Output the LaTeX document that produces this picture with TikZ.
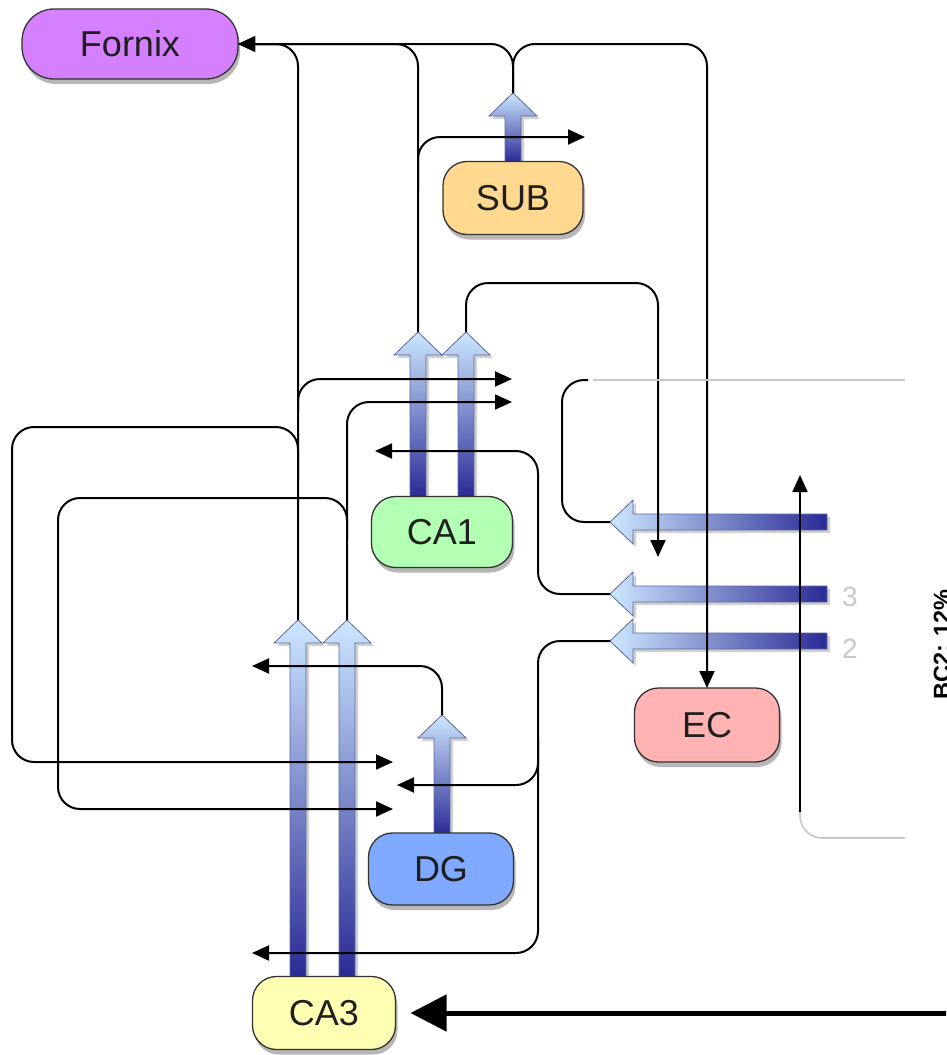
\documentclass[tikz,border=0pt]{standalone}
\usepackage{fontspec}
\setmainfont{Liberation Sans}
\usetikzlibrary{arrows.meta,shadows}
\definecolor{adark}{HTML}{2A2A95}
\definecolor{alight}{HTML}{CDE7FF}
\definecolor{aedge}{HTML}{5A6A9E}
\definecolor{cFornix}{HTML}{D580FF}
\definecolor{cSub}{HTML}{FFD990}
\definecolor{cCAone}{HTML}{B3FFB3}
\definecolor{cEC}{HTML}{FFB3B3}
\definecolor{cDG}{HTML}{80AAFF}
\definecolor{cCAthree}{HTML}{FFFFB3}
\definecolor{gline}{HTML}{C8C8C8}
\tikzset{
  area/.style={draw=black!80, line width=1.3pt, rounded corners=24pt, inner sep=0pt, outer sep=0pt,
    font=\fontsize{36}{40}\selectfont, text=black!88,
    drop shadow={shadow xshift=2pt,shadow yshift=-5pt,fill=black!40,opacity=0.7}},
  conn/.style={line width=2pt, rounded corners=22pt, draw=black},
  tip/.style={-{Triangle[length=17pt,width=15pt]}},
  greyline/.style={line width=1.6pt, draw=gline, rounded corners=22pt},
  biga/.style={line width=5pt, -{Triangle[length=36pt,width=36pt]}},
  lab/.style={text=gline, font=\fontsize{28}{30}\selectfont, inner sep=0pt}
}
\newcommand\fatup[3]{%
  \fill[black!30,opacity=0.6,shift={(3,3)}] (#1-8,#3) -- (#1-8,#2+23) -- (#1-24,#2+23) -- (#1,#2) -- (#1+24,#2+23) -- (#1+8,#2+23) -- (#1+8,#3) -- cycle;
  \draw[top color=alight,bottom color=adark,draw=aedge,line width=0.8pt] (#1-8,#3) -- (#1-8,#2+23) -- (#1-24,#2+23) -- (#1,#2) -- (#1+24,#2+23) -- (#1+8,#2+23) -- (#1+8,#3) -- cycle;}
\newcommand\fatleft[3]{%
  \fill[black!30,opacity=0.6,shift={(3,3)}] (#3,#1-8) -- (#2+23,#1-8) -- (#2+23,#1-22) -- (#2,#1) -- (#2+23,#1+22) -- (#2+23,#1+8) -- (#3,#1+8) -- cycle;
  \draw[left color=alight,right color=adark,draw=aedge,line width=0.8pt] (#3,#1-8) -- (#2+23,#1-8) -- (#2+23,#1-22) -- (#2,#1) -- (#2+23,#1+22) -- (#2+23,#1+8) -- (#3,#1+8) -- cycle;}
\begin{document}
\begin{tikzpicture}[x=1pt,y=-1pt]
\useasboundingbox (0,0) rectangle (946,1055);
\clip (0,0) rectangle (946,1055);
\fill[white] (0,0) rectangle (946,1055);

% fat arrows
\fatup{513}{93}{162}
\fatup{418}{332}{497}
\fatup{466}{332}{497}
\fatup{298}{620}{977}
\fatup{347}{620}{977}
\fatup{442}{715}{834}
\fatleft{522}{610}{827}
\fatleft{594}{610}{827}
\fatleft{641}{610}{827}

% nodes
\node[area,fill=cFornix,minimum width=216pt,minimum height=70pt,rounded corners=32pt] (fornix) at (130,44) {Fornix};
\node[area,fill=cSub,minimum width=140pt,minimum height=73pt] (sub) at (513,198) {SUB};
\node[area,fill=cCAone,minimum width=141pt,minimum height=71pt] (ca1) at (442,532) {CA1};
\node[area,fill=cEC,minimum width=145pt,minimum height=74pt] (ec) at (707,725) {EC};
\node[area,fill=cDG,minimum width=145pt,minimum height=72pt] (dg) at (441,869) {DG};
\node[area,fill=cCAthree,minimum width=143pt,minimum height=73pt] (ca3) at (324,1013) {CA3};

% arrow tips of the fat arrows
\coordinate (subtip) at (513,93);
\coordinate (caOneL) at (418,332);
\coordinate (caOneR) at (466,332);
\coordinate (caThreeL) at (298,620);
\coordinate (caThreeR) at (347,620);
\coordinate (dgtip) at (442,715);
\coordinate (ecV) at (610,522);
\coordinate (ecIII) at (610,594);
\coordinate (ecII) at (610,641);

% thin connectors
\draw[conn,tip] (subtip) |- (fornix.east);
\draw[conn,tip] (subtip) |- (707,44) -- (ec.north);
\draw[conn,tip] (caThreeL) |- (fornix.east);
\draw[conn,tip] (caOneL) |- (fornix.east);
\draw[conn,tip] (418,190) |- (585,137);
\draw[conn,tip] (298,410) |- (512,379);
\draw[conn,tip] (caThreeR) |- (512,402);
\draw[conn,tip] (298,480) |- (12,427) |- (393,762);
\draw[conn,tip] (347,540) |- (58,498) |- (393,809);
\draw[conn,tip] (caOneR) |- (658,283) -- (658,557);
\draw[conn,tip] (ecIII) -| (538,451) -- (375,451);
\draw[conn] (ecV) -| (562,380) -- (588,380);
\draw[greyline] (593,380) -- (905,380);
\draw[conn,tip] (ecII) -| (538,953) -- (252,953);
\draw[conn,tip] (538,740) |- (397,785);
\draw[conn,tip] (dgtip) |- (252,666);
\draw[greyline] (905,838) -| (800,812);
\draw[conn,tip] (800,812) -- (800,475);

% big input arrow
\draw[biga] (965,1013) -- ([xshift=15pt]ca3.east);

% labels
\node[lab] (lthree) at (850,597) {3};
\node[lab] (ltwo) at (850,649) {2};
\node[font=\bfseries\fontsize{23.5}{26}\selectfont, rotate=90, anchor=base west, inner sep=0pt] (bc) at (950,700) {BC2: 12\%};
\end{tikzpicture}
\end{document}
